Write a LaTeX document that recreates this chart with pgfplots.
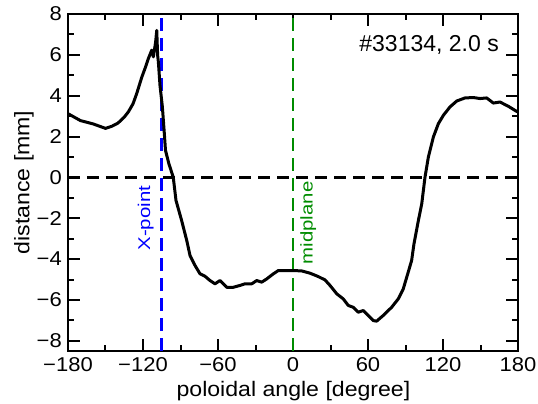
\documentclass[border=0pt]{standalone}
\usepackage{fontspec}
\setmainfont{Liberation Sans}
\usepackage{graphicx}
\usepackage{pgfplots}
\pgfplotsset{compat=1.18}
\definecolor{midgreen}{RGB}{0,140,0}

\newcommand{\tickfnt}{\fontsize{20bp}{22bp}\selectfont}
\newcommand{\labfnt}{\fontsize{21bp}{24bp}\selectfont}
\newcommand{\notefnt}{\fontsize{17bp}{19bp}\selectfont}
\newcommand{\tl}[1]{\scalebox{1.1}[1]{#1}}

\begin{document}
\begin{tikzpicture}
\begin{axis}[
  scale only axis,
  width=450bp, height=337bp,
  xmin=-180, xmax=180, ymin=-8.5, ymax=8,
  xtick={-180,-120,...,180},
  xticklabels={\tl{−180},\tl{−120},\tl{−60},\tl{0},\tl{60},\tl{120},\tl{180}},
  ytick={-8,-6,...,8},
  yticklabels={\tl{−8},\tl{−6},\tl{−4},\tl{−2},\tl{0},\tl{2},\tl{4},\tl{6},\tl{8}},
  minor x tick num=1,
  minor y tick num=1,
  tick align=inside,
  major tick length=12bp,
  minor tick length=6bp,
  every tick/.style={black, line width=2bp},
  axis line style={line width=2bp},
  xticklabel style={font=\tickfnt, inner sep=0pt, yshift=-6bp},
  yticklabel style={font=\tickfnt, inner sep=0pt, xshift=-6bp},
  xlabel={\scalebox{1.1}[1]{poloidal angle [degree]}},
  ylabel={\scalebox{1.1}[1]{distance [mm]}},
  xlabel style={font=\labfnt, inner sep=0pt,
    at={(axis description cs:0.501,-0.089)}, anchor=north},
  ylabel style={font=\labfnt, inner sep=0pt,
    at={(axis description cs:-0.0978,0.5)}, anchor=center},
]
% reference lines
\addplot[black, line width=2.5bp, dash pattern=on 12bp off 7bp] coordinates {(-180,0) (180,0)};
\addplot[blue, line width=2.5bp, dash pattern=on 13bp off 7bp] coordinates {(-105,-8.5) (-105,8)};
\addplot[midgreen, line width=2.7bp, dash pattern=on 13bp off 7bp] coordinates {(0,-8.5) (0,8)};

% measured distance
\addplot[black, line width=3bp, line join=round] coordinates {
  (-180,3.12) (-175,2.95) (-170,2.78) (-160,2.62) (-150,2.40) (-145,2.50)
  (-140,2.66) (-135,2.95) (-131.7,3.21) (-128,3.60) (-125,4.11) (-121,4.90)
  (-118,5.40) (-115.7,5.82) (-113,6.23) (-111.7,5.90) (-109.9,6.63) (-109,7.20)
  (-108.3,5.98) (-107.7,5.65) (-106.4,4.50) (-104.5,3.45) (-103,2.20) (-102,1.32)
  (-99.3,0.67) (-95.8,0.01) (-93.6,-1.13) (-89.1,-2.11) (-85,-3.09) (-82.4,-3.82)
  (-78.4,-4.31) (-74.4,-4.72) (-70.4,-4.84) (-66.4,-5.05) (-62.4,-5.21) (-58.4,-5.05)
  (-53,-5.38) (-47.7,-5.38) (-42.4,-5.29) (-38.4,-5.21) (-33,-5.21) (-29,-5.05)
  (-25,-5.13) (-21,-4.97) (-15.7,-4.72) (-11.7,-4.56) (-5,-4.56) (0,-4.56)
  (7,-4.58) (13.6,-4.69) (20,-4.85) (25.6,-5.02) (29.6,-5.29) (35,-5.70)
  (40.2,-5.95) (44.2,-6.27) (48.2,-6.36) (52.2,-6.60) (56.2,-6.52) (60.2,-6.76)
  (64.2,-7.01) (66.9,-7.04) (72.2,-6.76) (78.9,-6.36) (84.2,-5.95) (88.2,-5.46)
  (91.4,-4.80) (94.9,-4.07) (96.8,-3.25) (100.3,-2.11) (103,-1.29) (105.6,0.01)
  (108.3,1.00) (112.3,1.98) (116.3,2.63) (120.3,3.04) (125.6,3.45) (131,3.74)
  (137.6,3.89) (144.3,3.91) (149.6,3.86) (154.9,3.89) (160.3,3.64) (165.6,3.69)
  (172.3,3.48) (178.4,3.25) (180,3.20)
};

\node[blue, rotate=90, anchor=south, inner sep=0pt, yshift=8bp, font=\notefnt]
  at (axis cs:-105,-2.0) {\scalebox{1.2}[1]{X-point}};
\node[midgreen, rotate=90, anchor=north, inner sep=0pt, yshift=-7bp, font=\notefnt]
  at (axis cs:0,-2.23) {\scalebox{1.2}[1]{midplane}};
\node[anchor=base east, inner sep=0pt, font=\fontsize{23bp}{26bp}\selectfont]
  at (axis cs:164.8,6.14) {\#33134, 2.0 s};
\end{axis}
\pgfresetboundingbox
\path[use as bounding box] (current axis.south west) ++(-68bp,-53bp)
  rectangle ([shift={(20bp,14bp)}]current axis.north east);
\end{tikzpicture}
\end{document}
